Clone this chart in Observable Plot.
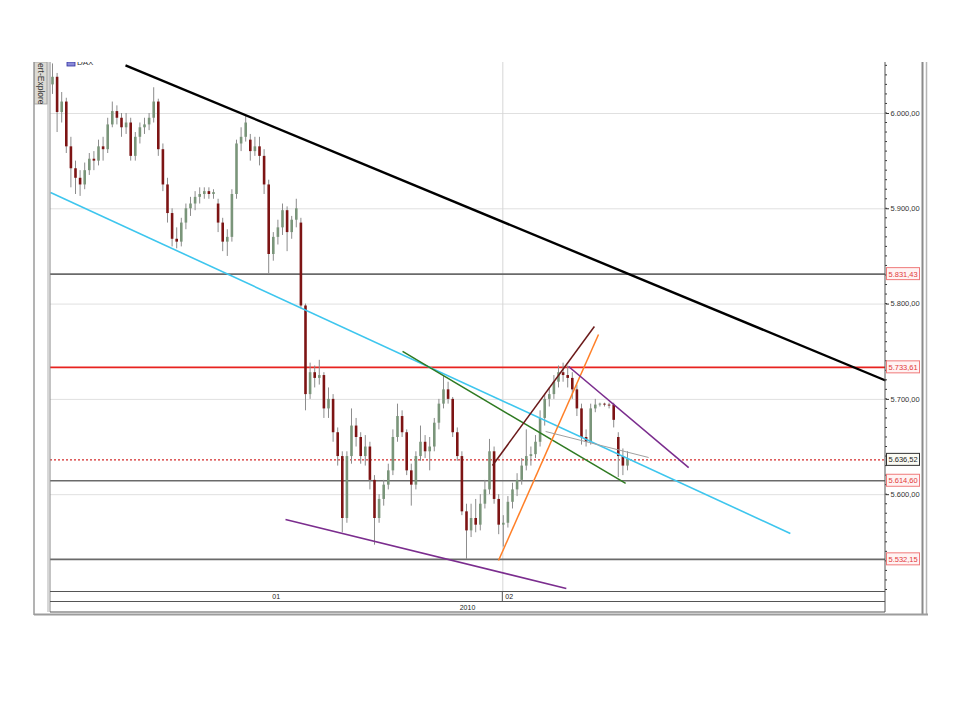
<!DOCTYPE html>
<html><head><meta charset="utf-8">
<script src="https://cdn.jsdelivr.net/npm/d3@7"></script>
<script src="https://cdn.jsdelivr.net/npm/@observablehq/plot@0.6"></script>
<style>html,body{margin:0;padding:0;background:#fff;} #chart{width:960px;height:720px;}</style>
</head><body><div id="chart"></div>
<script>
// ---- candle data (bar index, prices) ----
const opens = [6030,6038,6001,6012,5965,5942,5932,5925,5940,5952,
5950,5965,5962,5988,6002,5995,5985,5990,5955,5975,
5985,5988,5995,6012,5962,5925,5895,5868,5865,5885,
5900,5905,5912,5915,5918,5915,5905,5885,5865,5870,
5915,5968,5975,5972,5960,5965,5955,5925,5852,5870,
5880,5898,5875,5888,5885,5798,5705,5728,5722,5725,
5690,5700,5665,5640,5575,5640,5672,5660,5640,5650,
5615,5575,5595,5610,5625,5660,5682,5665,5625,5610,
5640,5655,5645,5650,5675,5695,5710,5700,5665,5640,
5582,5562,5575,5568,5590,5605,5645,5595,5568,5570,
5592,5605,5615,5630,5640,5642,5655,5680,5700,5705,
5718,5728,5725,5722,5710,5690,5660,5655,5690,5694,
5695,5694,5694,5660,5640,5630];
const highs = [6052,6042,6022,6016,5975,5950,5940,5948,5958,5960,
5972,5975,5995,6012,6008,6000,6000,5995,5980,5990,
5995,6000,6027,6015,5968,5932,5900,5880,5890,5905,
5912,5918,5922,5922,5922,5920,5910,5890,5878,5920,
5972,5985,5998,5978,5975,5975,5962,5930,5875,5888,
5905,5902,5892,5910,5890,5800,5738,5735,5741,5728,
5712,5705,5670,5645,5645,5690,5680,5665,5662,5655,
5620,5600,5615,5632,5668,5695,5688,5668,5632,5645,
5672,5662,5660,5680,5700,5725,5718,5702,5670,5645,
5590,5590,5595,5600,5615,5658,5650,5600,5578,5598,
5612,5622,5638,5668,5650,5662,5688,5705,5712,5725,
5735,5738,5735,5728,5715,5695,5668,5695,5700,5696,
5696,5696,5696,5665,5648,5645];
const lows = [6020,5980,5990,5958,5922,5915,5913,5920,5935,5940,
5945,5950,5958,5985,5988,5975,5978,5950,5950,5968,
5978,5982,5990,5955,5918,5885,5860,5858,5860,5878,
5892,5898,5905,5910,5910,5910,5875,5855,5850,5865,
5910,5960,5970,5950,5955,5945,5915,5832,5845,5862,
5872,5855,5868,5880,5795,5688,5700,5712,5715,5680,
5680,5655,5630,5560,5570,5632,5650,5632,5630,5605,
5547,5570,5588,5605,5620,5655,5660,5620,5588,5605,
5635,5638,5625,5645,5668,5690,5695,5660,5635,5578,
5532,5555,5560,5562,5585,5600,5590,5558,5545,5565,
5585,5598,5610,5625,5630,5638,5650,5672,5692,5700,
5712,5718,5712,5700,5682,5652,5650,5652,5686,5692,
5692,5690,5670,5618,5620,5625];
const closes = [6038,6001,6012,5965,5942,5932,5925,5940,5952,5950,
5965,5962,5988,6002,5995,5985,5990,5955,5975,5985,
5988,5995,6012,5962,5925,5895,5868,5865,5885,5900,
5905,5912,5915,5918,5915,5917,5885,5865,5870,5915,
5968,5975,5990,5960,5965,5955,5925,5852,5870,5880,
5898,5875,5888,5900,5798,5705,5728,5722,5725,5690,
5700,5665,5640,5575,5640,5672,5660,5640,5650,5615,
5575,5595,5610,5625,5660,5682,5665,5625,5610,5640,
5655,5645,5650,5675,5695,5710,5700,5665,5640,5582,
5562,5575,5568,5590,5605,5645,5595,5568,5570,5592,
5605,5615,5630,5640,5642,5655,5680,5700,5705,5718,
5728,5725,5722,5710,5690,5660,5655,5690,5694,5695,
5694,5693,5678,5640,5630,5637];

// ---- horizontal levels ----
const levelValues = [5831.43, 5733.61, 5636.52, 5614.60, 5532.15];
const levelLabels = ["5.831,43", "5.733,61", "5.636,52", "5.614,60", "5.532,15"];
const levelKinds  = ["gray", "red", "dotted", "gray", "gray"];

// ---- price axis ticks ----
const majorTicks = [5600, 5700, 5800, 5900, 6000];
const minorTicks = d3.range(5500, 6051, 10);

// ---- trendlines (bar index, price) ----
const trendNames = ["resistance", "channel", "flag", "lowerWedge", "upChannelTop", "upChannelBottom", "fallingTop", "thin"];
const trendX1 = [15.87, -0.43, 76.1, 50.65, 95.65, 96.96, 112.2, 107.2];
const trendY1 = [6050.4, 5917.1, 5750.3, 5574.0, 5630.6, 5530.9, 5734.5, 5666.3];
const trendX2 = [181.1, 160.4, 124.6, 111.7, 117.8, 118.7, 138.3, 129.6];
const trendY2 = [5719.8, 5559.3, 5611.8, 5501.6, 5776.5, 5768.1, 5628.5, 5639.0];
const trendColors = ["#000000", "#3ec6ee", "#2f7a22", "#7b2d8e", "#6b1a1a", "#ff7f27", "#7b2d8e", "#a0a0a0"];
const trendWidths = [2.4, 1.6, 1.5, 1.6, 1.5, 1.5, 1.6, 1];

// ---- date axis ----
const febStart = 97.9;
const monthLabels = ["01", "02"];
const yearLabel = "2010";

(function draw() {
const candles = opens.map((o, i) => ({i, o, h: highs[i], l: lows[i], c: closes[i]}));
const trends = trendNames.map((n, k) => ({n, x1: trendX1[k], y1: trendY1[k], x2: trendX2[k], y2: trendY2[k], color: trendColors[k], w: trendWidths[k]}));
const levels = levelValues.map((v, k) => ({v, label: levelLabels[k], kind: levelKinds[k]}));

const de = d3.formatLocale({decimal: ",", thousands: ".", grouping: [3], currency: ["", ""]});
const fmt = de.format(",.2f");
const FONT = "'Liberation Sans', Arial, sans-serif";

const chart = Plot.plot({
  width: 960, height: 720,
  marginLeft: 50, marginRight: 75, marginTop: 62, marginBottom: 129,
  style: {fontFamily: FONT, fontSize: "7.5px", background: "white", color: "#333"},
  x: {domain: [-0.435, 181.09], axis: null},
  y: {domain: [5498.4, 6053.5], axis: "right", ticks: majorTicks, tickFormat: fmt, tickSize: 3, tickPadding: 2, label: null},
  marks: [
    Plot.ruleY(majorTicks, {stroke: "#e0e0e0", strokeWidth: 1}),
    Plot.ruleX([febStart], {stroke: "#d6d6d6", strokeWidth: 1}),
    Plot.ruleY(levels.filter(d => d.kind === "gray"), {y: "v", stroke: "#6a6a6a", strokeWidth: 1.6}),
    Plot.ruleY(levels.filter(d => d.kind === "red"), {y: "v", stroke: "#e8231f", strokeWidth: 1.6}),
    Plot.ruleY(levels.filter(d => d.kind === "dotted"), {y: "v", stroke: "#d42a2a", strokeWidth: 1.4, strokeDasharray: "2,2"}),
    Plot.ruleX(candles, {x: "i", y1: "l", y2: "h", stroke: "#8c8c8c", strokeWidth: 1}),
    Plot.ruleX(candles, {x: "i", y1: "o", y2: "c", stroke: d => d.c >= d.o ? "#7a957a" : "#7d1414", strokeWidth: 2.6}),
    Plot.link(trends, {x1: "x1", y1: "y1", x2: "x2", y2: "y2", stroke: "color", strokeWidth: "w"})
  ]
});
document.getElementById("chart").appendChild(chart);

const svg = d3.select(chart);
const X = chart.scale("x"), Y = chart.scale("y");
const fL = 50, fR = 885, fT = 62, fB = 591;

svg.append("g").selectAll("line").data(minorTicks.filter(v => Y.apply(v) > fT && Y.apply(v) < fB)).join("line")
  .attr("x1", fR).attr("x2", fR + 2).attr("y1", v => Y.apply(v)).attr("y2", v => Y.apply(v))
  .attr("stroke", "#333").attr("stroke-width", 1);

const lg = svg.append("g").attr("font-family", FONT).attr("font-size", 7.5).attr("text-anchor", "start");
levels.forEach(d => {
  const y = Y.apply(d.v);
  const isBlack = d.kind === "dotted";
  lg.append("rect").attr("x", fR + 1.5).attr("y", y - 6).attr("width", 33).attr("height", 12)
    .attr("fill", isBlack ? "#fbfbf4" : "#fff3f3").attr("stroke", isBlack ? "#333" : "#f07a7a").attr("stroke-width", 1);
  lg.append("text").attr("x", fR + 3.5).attr("y", y + 3).attr("fill", isBlack ? "#222" : "#e23a3a").text(d.label);
});

const fg = svg.append("g");
const line = (x1, y1, x2, y2, c, w) => fg.append("line").attr("x1", x1).attr("y1", y1).attr("x2", x2).attr("y2", y2).attr("stroke", c).attr("stroke-width", w);
line(fR, fT, fR, 612, "#555", 1);
line(fL, fT, fL, 612, "#888", 1);
line(34, fT, 34, 615, "#9a9a9a", 1.5);
line(48, fT, 48, 612, "#b0b0b0", 1);
line(922.5, fT, 922.5, 614, "#8a8a8a", 2);
line(926.5, fT, 926.5, 614, "#b5b5b5", 1.5);
line(fL, 591.5, fR, 591.5, "#555", 1);
line(fL, 601.5, fR, 601.5, "#555", 1);
line(fL, 612, fR, 612, "#555", 1);
line(34, 614.5, 928, 614.5, "#9c9c9c", 2);
const xf = X.apply(febStart);
line(xf, 591.5, xf, 601.5, "#555", 1);

const dg = svg.append("g").attr("font-family", FONT).attr("font-size", 7).attr("fill", "#222");
dg.append("text").attr("x", (fL + xf) / 2).attr("y", 599).attr("text-anchor", "middle").text(monthLabels[0]);
dg.append("text").attr("x", xf + 3).attr("y", 599).attr("text-anchor", "start").text(monthLabels[1]);
dg.append("text").attr("x", (fL + fR) / 2).attr("y", 609.5).attr("text-anchor", "middle").text(yearLabel);

svg.append("rect").attr("x", 34.5).attr("y", fT).attr("width", 12.5).attr("height", 42).attr("fill", "#dcdad4").attr("stroke", "#999").attr("stroke-width", 0.8);
svg.append("text").attr("transform", `translate(37.5,${fT + 1}) rotate(90)`).attr("text-anchor", "start").attr("font-family", FONT).attr("font-size", 8.5).attr("fill", "#333").text("ert-Explore");

svg.append("rect").attr("x", 67).attr("y", fT).attr("width", 8).attr("height", 4).attr("fill", "#8a8ad8").attr("stroke", "#3030a0").attr("stroke-width", 0.8);
svg.append("text").attr("x", 77).attr("y", fT + 3).attr("text-anchor", "start").attr("font-family", FONT).attr("font-size", 8).attr("fill", "#333").text("DAX");
svg.append("rect").attr("x", 0).attr("y", 0).attr("width", 960).attr("height", fT).attr("fill", "white");
})();
</script>
</body></html>
